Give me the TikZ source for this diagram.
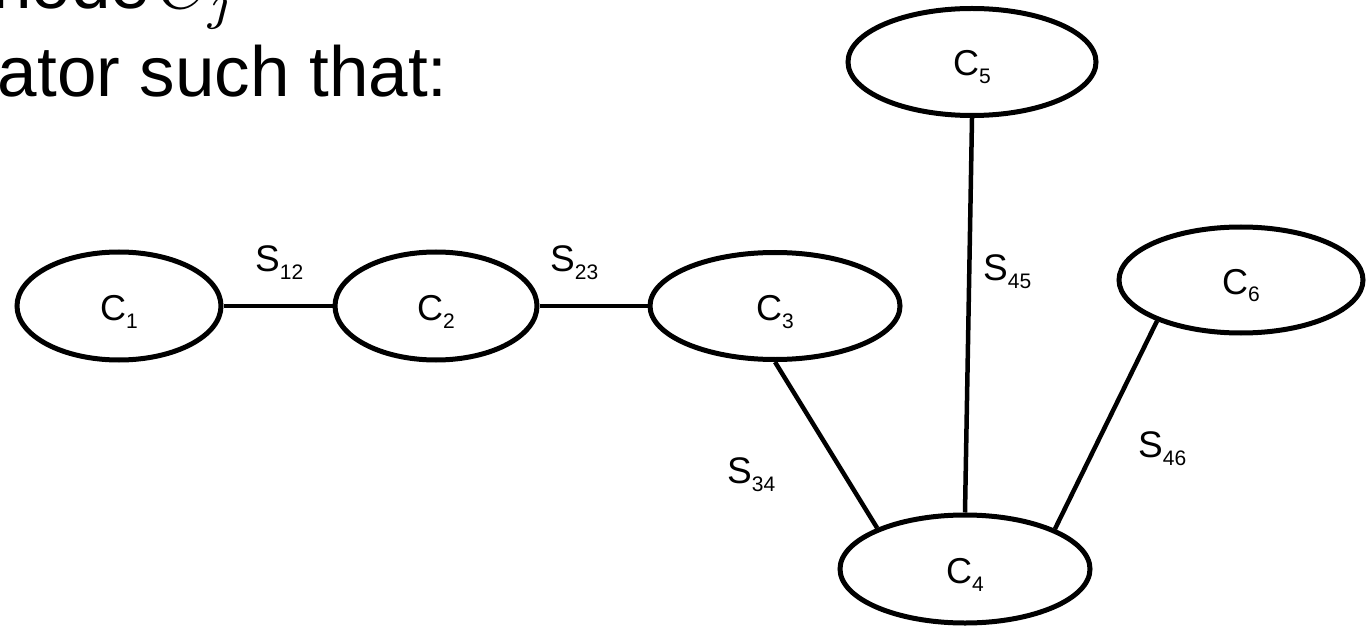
\documentclass[tikz,border=0pt]{standalone}
\usepackage{fontspec}
\setmainfont{Liberation Sans}
\usetikzlibrary{shapes.geometric}
\newcommand\subsc[1]{\raisebox{-8pt}{\fontsize{21}{21}\selectfont #1}}
\newcommand\bigmath[1]{{\normalsize\scalebox{7.1}{$#1$}}}
\begin{document}
\begin{tikzpicture}[x=1pt,y=-1pt,
  cl/.style={draw,ellipse,line width=5pt,inner sep=0pt,
    font=\fontsize{36}{40}\selectfont,text height=28pt,text depth=0pt},
  lbl/.style={inner sep=0pt,anchor=base west,font=\fontsize{37}{40}\selectfont},
  edge/.style={line width=4.5pt},
  title/.style={inner sep=0pt,anchor=base east,font=\fontsize{71}{74}\selectfont}]
\clip (0,0) rectangle (1367,628);
\fill[white] (0,0) rectangle (1367,628);
% text lines (cut at the top)
\node[title] (t1) at (238,9) {node\hspace{7pt}\bigmath{C_j}};
\node[title] (t2) at (448,97) {ator such that:};
% clusters
\node[cl,minimum width=204pt,minimum height=108pt] (c1) at (119,306) {C\subsc{1}};
\node[cl,minimum width=202pt,minimum height=108pt] (c2) at (436,306) {C\subsc{2}};
\node[cl,minimum width=250pt,minimum height=107pt] (c3) at (775,306) {C\subsc{3}};
\node[cl,minimum width=250pt,minimum height=108pt] (c4) at (965,569) {C\subsc{4}};
\node[cl,minimum width=248pt,minimum height=107pt] (c5) at (972,62) {C\subsc{5}};
\node[cl,minimum width=244pt,minimum height=106pt] (c6) at (1241,280) {C\subsc{6}};
% separators
\draw[edge] (c1.east) -- (c2.west);
\draw[edge] (c2.east) -- (c3.west);
\draw[edge] (c3.south) -- (c4.155);
\draw[edge] (c5.south) -- (c4.north);
\draw[edge] (c6.206) -- (c4.24);
% labels
\node[lbl] (s12) at (255,272) {S\subsc{12}};
\node[lbl] (s23) at (550,272) {S\subsc{23}};
\node[lbl] (s34) at (727,483) {S\subsc{34}};
\node[lbl] (s45) at (983,280) {S\subsc{45}};
\node[lbl] (s46) at (1138,457) {S\subsc{46}};
\end{tikzpicture}
\end{document}
